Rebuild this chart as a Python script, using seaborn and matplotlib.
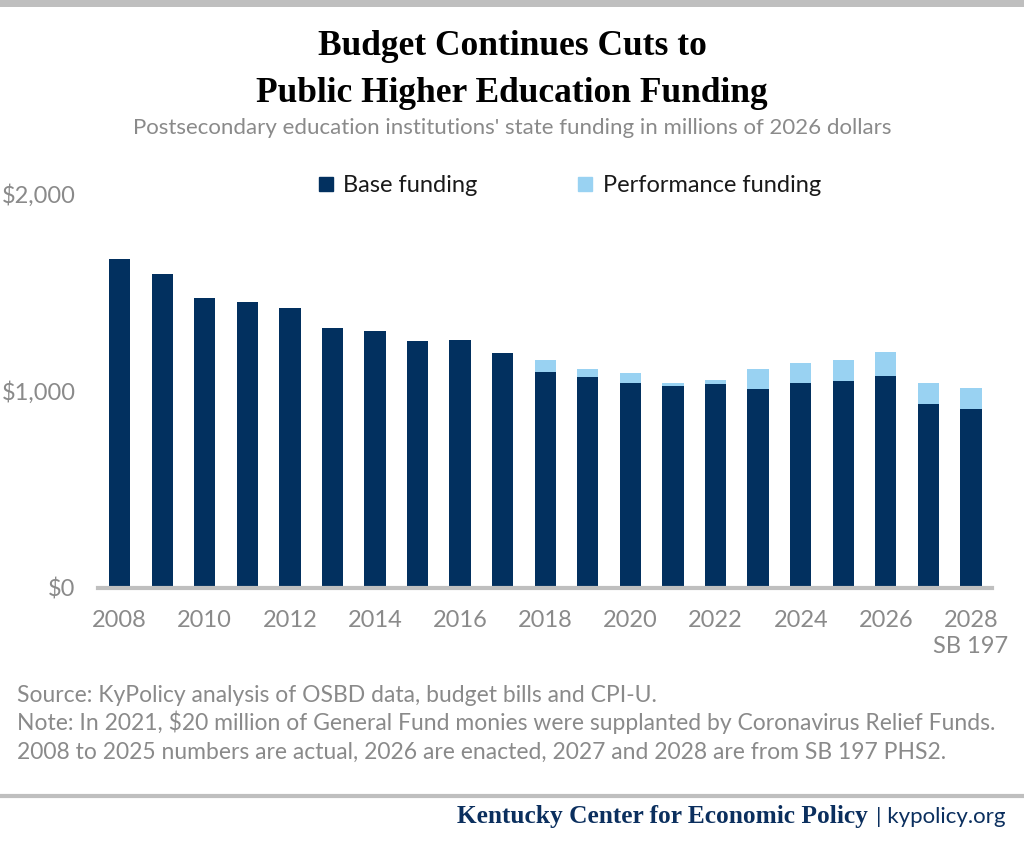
import matplotlib
matplotlib.use("Agg")
import matplotlib.pyplot as plt
import seaborn as sns
import pandas as pd
from matplotlib.lines import Line2D
from matplotlib.patches import Rectangle

# values in millions of 2026 dollars
years = list(range(2008, 2029))
base_funding = [1666, 1590, 1468, 1448, 1418, 1316, 1301, 1251, 1256, 1190,
                1094, 1068, 1038, 1023, 1033, 1008, 1038, 1048, 1073, 932, 906]
performance_funding = [0, 0, 0, 0, 0, 0, 0, 0, 0, 0,
                       60, 41, 51, 15, 20, 101, 101, 106, 122, 106, 107]
year_labels = [str(y) if y % 2 == 0 else "" for y in years]
year_labels[-1] = "2028\nSB 197"

NAVY = "#02305f"
LIGHT = "#99d2f2"
GRAY = "#8a8a8a"
LINE_GRAY = "#bfbfbf"

df = pd.DataFrame({"year": [str(y) for y in years],
                   "base": base_funding,
                   "perf": performance_funding})
df["total"] = df["base"] + df["perf"]

sns.set_theme(style="white")
plt.rcParams["font.family"] = ["Lato", "DejaVu Sans"]

fig = plt.figure(figsize=(10.24, 8.43), dpi=100)
ax = fig.add_axes([0.096, 0.3025, 0.873, 0.4685])

sns.barplot(data=df, x="year", y="total", color=LIGHT, width=0.5,
            saturation=1, linewidth=0, ax=ax)
sns.barplot(data=df, x="year", y="base", color=NAVY, width=0.5,
            saturation=1, linewidth=0, ax=ax)

ax.set_xlim(-0.5, len(years) - 0.5)
ax.set_ylim(0, 2000)
ax.set_yticks([0, 1000, 2000])
ax.set_yticklabels(["$0", "$1,000", "$2,000"])
ax.set_xticks(range(len(years)))
ax.set_xticklabels(year_labels, va="top", linespacing=1.35)
ax.tick_params(axis="both", length=0, labelsize=17, colors=GRAY)
ax.tick_params(axis="y", pad=16.5)
ax.tick_params(axis="x", pad=15.5)
ax.set_xlabel("")
ax.set_ylabel("")
for s in ["top", "right", "left"]:
    ax.spines[s].set_visible(False)
ax.spines["bottom"].set_color(LINE_GRAY)
ax.spines["bottom"].set_linewidth(3)
ax.grid(False)

handles = [
    Line2D([], [], marker="s", linestyle="", markersize=10.5, color=NAVY),
    Line2D([], [], marker="s", linestyle="", markersize=10.5, color=LIGHT),
]
fig.legend(handles, ["Base funding", "Performance funding"],
           loc="center", bbox_to_anchor=(0.556, 0.7795), ncol=2, frameon=False,
           fontsize=17, handlelength=0.7, handletextpad=0.4,
           columnspacing=4.2, labelcolor="#1a1a1a")

# top grey band
fig.add_artist(Rectangle((0, 1 - 7 / 843), 1, 7 / 843, transform=fig.transFigure,
                         color=LINE_GRAY, linewidth=0))

fig.text(0.5, 0.9348, "Budget Continues Cuts to", ha="center", va="baseline",
         fontsize=25.5, fontweight="bold", family="Liberation Serif", color="black")
fig.text(0.5, 0.879, "Public Higher Education Funding", ha="center",
         va="baseline", fontsize=25.5, fontweight="bold",
         family="Liberation Serif", color="black")
fig.text(0.5, 0.841,
         "Postsecondary education institutions' state funding in millions of 2026 dollars",
         ha="center", va="baseline", fontsize=16, color=GRAY)

notes = ["Source: KyPolicy analysis of OSBD data, budget bills and CPI-U.",
         "Note: In 2021, $20 million of General Fund monies were supplanted by Coronavirus Relief Funds.",
         "2008 to 2025 numbers are actual, 2026 are enacted, 2027 and 2028 are from SB 197 PHS2."]
for i, line in enumerate(notes):
    fig.text(0.017, 0.167 - i * 0.0335, line, ha="left", va="baseline",
             fontsize=16.5, color=GRAY)

fig.add_artist(Line2D([0, 1], [0.0558, 0.0558], transform=fig.transFigure,
                      color=LINE_GRAY, linewidth=3))
fig.text(0.848, 0.0237, "Kentucky Center for Economic Policy", ha="right",
         va="baseline", fontsize=18.3, fontweight="bold", color="#0b2f5e",
         family="Liberation Serif")
fig.text(0.982, 0.0237, "| kypolicy.org", ha="right", va="baseline",
         fontsize=16, color="#0b2f5e")

fig.savefig("out.png", dpi=100)
